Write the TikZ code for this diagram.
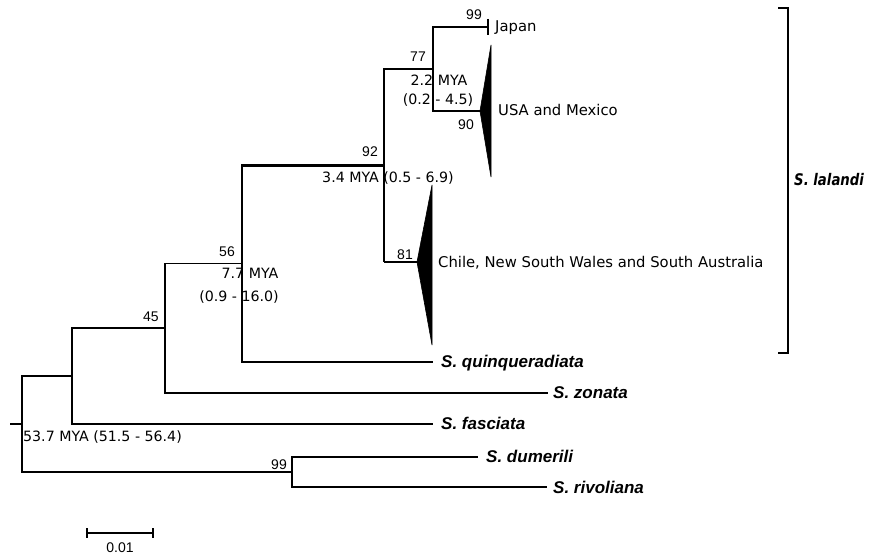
\documentclass[tikz,border=0pt]{standalone}
\usepackage{fontspec}
\setmainfont{DejaVu Sans}
\newfontfamily\numfont{Liberation Sans}
\newfontfamily\taxfont{Liberation Sans}
\newfontfamily\cladefont[FakeStretch=0.83]{DejaVu Sans}
\begin{document}
\begin{tikzpicture}[x=1pt,y=-1pt,
  branch/.style={line width=1.2pt,black},
  thickbranch/.style={line width=2.5pt,black},
  boot/.style={inner sep=0pt,font=\numfont\fontsize{14}{15}\selectfont},
  datelbl/.style={inner sep=0pt,font=\fontsize{14.2}{15}\selectfont},
  region/.style={inner sep=0pt,anchor=base west,font=\fontsize{14.8}{16}\selectfont},
  taxon/.style={inner sep=0pt,anchor=base west,font=\taxfont\bfseries\itshape\fontsize{17}{18}\selectfont},
  collapsed/.style={fill=black,draw=black,line width=0.6pt,line join=miter}]
\useasboundingbox (0,0) rectangle (873,556);

% internal nodes
\coordinate (r0)   at (10,424);
\coordinate (root) at (22,424);
\coordinate (nA)   at (72,376);
\coordinate (n45)  at (165,328);
\coordinate (n56)  at (242,263.5);
\coordinate (n92)  at (384,165.5);
\coordinate (n77)  at (433,69);
\coordinate (nB)   at (292,472);

% tips
\coordinate (jap)  at (488,27);
\coordinate (usa)  at (480,111);
\coordinate (chi)  at (417,262);
\coordinate (qui)  at (433,362);
\coordinate (zon)  at (548,393);
\coordinate (fas)  at (433,424);
\coordinate (dum)  at (478,457);
\coordinate (riv)  at (547,487);

% thin branches
\draw[branch] (r0) -- (root);
\draw[branch] (root) |- (nA);
\draw[branch] (root) |- (nB);
\draw[branch] (nA) |- (n45);
\draw[branch] (nA) |- (fas);
\draw[branch] (n45) |- (n56);
\draw[branch] (n45) |- (zon);
\draw[branch] (n56) |- (qui);
\draw[branch] (n56) -- (n56 |- n92);
\draw[branch] (n92 |- chi) -- (chi);
\draw[branch] (n77) |- (jap);
\draw[branch] (n77) |- (usa);
\draw[branch] (nB) |- (dum);
\draw[branch] (nB) |- (riv);

% supported S. lalandi backbone
\draw[thickbranch,line cap=rect] (n56 |- n92) -- (n92);
\draw[thickbranch] (n92) -- ++(0,-96.5) -- (n77);
\draw[thickbranch] (n92) -- (n92 |- chi);

% Japan tip tick
\draw[branch] (jap) ++(0,-8) -- ++(0,16);

% collapsed clades
\fill[collapsed] (usa) -- (491,45) -- (491,177) -- cycle;
\fill[collapsed] (chi) -- (432,185) -- (432,345) -- cycle;

% tip labels
\node[region] (lJap) at (495,32) {Japan};
\node[region] (lUsa) at (498,116) {USA and Mexico};
\node[region] (lChi) at (438,267) {Chile, New South Wales and South Australia};
\node[taxon] (lQui) at (441,367) {S. quinqueradiata};
\node[taxon] (lZon) at (553,398) {S. zonata};
\node[taxon] (lFas) at (441,429) {S. fasciata};
\node[taxon] (lDum) at (486,462) {S. dumerili};
\node[taxon] (lRiv) at (553,493) {S. rivoliana};

% bootstrap support
\node[boot] (b99a) at (474,15) {99};
\node[boot] (b77)  at (418,57) {77};
\node[boot] (b90)  at (466,125) {90};
\node[boot] (b92)  at (370,152) {92};
\node[boot] (b81)  at (405,255) {81};
\node[boot] (b56)  at (227,252) {56};
\node[boot] (b45)  at (151,317) {45};
\node[boot] (b99b) at (279,465) {99};

% divergence times
\node[datelbl] (d22)  at (439,80)  {2.2 MYA};
\node[datelbl] (d22r) at (438,100) {(0.2 - 4.5)};
\node[datelbl] (d34)  at (388,178) {3.4 MYA (0.5 - 6.9)};
\node[datelbl] (d77)  at (250,273) {7.7 MYA};
\node[datelbl] (d77r) at (239,297) {(0.9 - 16.0)};
\node[datelbl] (d537) at (102.5,437) {53.7 MYA (51.5 - 56.4)};

% S. lalandi bracket
\coordinate (bt) at (788,8);
\coordinate (bb) at (788,353);
\draw[branch] (bt) ++(-10,0) -- (bt) -- (bb) -- ++(-10,0);
\node[inner sep=0pt,anchor=base west,font=\cladefont\bfseries\itshape\fontsize{16}{17}\selectfont] (lLal) at (794,186) {S. lalandi};

% scale bar
\coordinate (s0) at (87,533);
\coordinate (s1) at (153,533);
\draw[branch] (s0) -- (s1);
\draw[branch] (s0) ++(0,-5) -- ++(0,10);
\draw[branch] (s1) ++(0,-5) -- ++(0,10);
\node[boot] (sc) at (120,548) {0.01};
\end{tikzpicture}
\end{document}
